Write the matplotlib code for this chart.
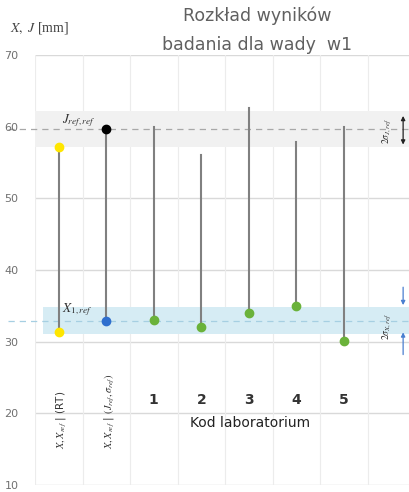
import matplotlib
matplotlib.use("Agg")
import matplotlib.pyplot as plt

# wyniki laboratoriow dla wady w1
labs = ['1', '2', '3', '4', '5']
lab_x = [33.0, 32.1, 34.0, 35.0, 30.1]
lab_j = [60.0, 56.0, 62.6, 57.8, 60.0]

# wartosci referencyjne
rt_low, rt_high = 31.3, 57.2
x_ref, j_ref = 32.9, 59.7
sigma_x, sigma_j = 1.9, 2.5

yticks = [10, 20, 30, 40, 50, 60, 70]

plt.rcParams['mathtext.fontset'] = 'stix'
fig = plt.figure(figsize=(4.09, 4.92), dpi=100)
ax = fig.add_axes([35/409, 7/492, 380/409, 430/492])
ax.set_xlim(-0.5, 7.5)
ax.set_ylim(10, 70)

for s in ax.spines.values():
    s.set_visible(False)
ax.set_xticks([])
ax.set_yticks(yticks)
ax.tick_params(axis='y', length=0, pad=12, labelsize=8, labelcolor='#707070')
for v in yticks:
    ax.axhline(v, color='#d9d9d9', lw=1, zorder=0)
for i in range(9):
    ax.axvline(i - 0.5, color='#ececec', lw=0.8, zorder=0)

# pasma niepewnosci
ax.fill_between([-0.5, 7.5], j_ref - sigma_j, j_ref + sigma_j, color='#f1f1f1', zorder=0.5, lw=0)
ax.fill_between([-0.33, 7.5], x_ref - sigma_x, x_ref + sigma_x, color='#d6ecf4', zorder=0.5, lw=0)
ax.plot([-1.07, 7.5], [j_ref, j_ref], ls=(0, (5, 4)), color='#a8a8a8', lw=0.9, clip_on=False, zorder=1)
ax.plot([-1.07, 7.5], [x_ref, x_ref], ls=(0, (5, 4)), color='#a6cfe2', lw=0.9, clip_on=False, zorder=1)

stem = dict(color='#808080', lw=1.5, zorder=2)
ms = 6
ax.plot([0, 0], [rt_low, rt_high], **stem)
ax.plot([1, 1], [x_ref, j_ref], **stem)
ax.plot([0], [rt_high], 'o', color='#ffe600', ms=ms, zorder=3)
ax.plot([0], [rt_low], 'o', color='#ffe600', ms=ms, zorder=3)
ax.plot([1], [j_ref], 'o', color='black', ms=ms, zorder=3)
ax.plot([1], [x_ref], 'o', color='#2f6fce', ms=ms, zorder=3)

for i, (lx, lj) in enumerate(zip(lab_x, lab_j)):
    ax.plot([i + 2, i + 2], [lx, lj], **stem)
    ax.plot([i + 2], [lx], 'o', color='#6ab23a', ms=ms, zorder=3)
    ax.text(i + 2, 21.9, labs[i], ha='center', va='center', fontsize=10,
            fontweight='bold', color='#333333')
ax.text(4.03, 18.7, 'Kod laboratorium', ha='center', va='center', fontsize=10, color='#222222')

ax.text(0.78, 60.9, r'$J_{ref,ref}$', ha='right', va='center', fontsize=9.5, color='#333333')
ax.text(0.70, 34.5, r'$X_{1,ref}$', ha='right', va='center', fontsize=9.5, color='#333333')

ax.text(0.05, 15, r'$X, X_{ref}$ | (RT)', rotation=90, ha='center', va='bottom',
        fontsize=7.5, color='#333333')
ax.text(1.05, 15, r'$X, X_{ref}$ | $(J_{ref}, \sigma_{ref})$', rotation=90, ha='center',
        va='bottom', fontsize=7.5, color='#333333')

# opisy pasm po prawej
ax.text(6.92, j_ref - 0.3, r'$2\sigma_{J,ref}$', rotation=90, ha='center', va='center',
        fontsize=7, color='#333333')
ax.annotate('', xy=(7.25, 57.5), xytext=(7.25, 61.5),
            arrowprops=dict(arrowstyle='<|-|>', color='#222222', lw=0.9,
                            mutation_scale=6, shrinkA=0, shrinkB=0))
ax.text(6.92, 32.1, r'$2\sigma_{X,ref}$', rotation=90, ha='center', va='center',
        fontsize=7, color='#333333')
ax.annotate('', xy=(7.25, 35.1), xytext=(7.25, 37.6),
            arrowprops=dict(arrowstyle='-|>', color='#4a7fd0', lw=0.9,
                            mutation_scale=6, shrinkA=0, shrinkB=0))
ax.annotate('', xy=(7.25, 31.3), xytext=(7.25, 28.2),
            arrowprops=dict(arrowstyle='-|>', color='#4a7fd0', lw=0.9,
                            mutation_scale=6, shrinkA=0, shrinkB=0))

fig.text(10/409, 1 - 28/492, r'$X,\ J$ [mm]', ha='left', va='center', fontsize=10,
         family='Liberation Serif', color='#444444')
fig.text(257/409, 1 - 30/492, 'Rozkład wyników\nbadania dla wady  w1', ha='center',
         va='center', fontsize=12.5, color='#606060', linespacing=1.75)

fig.savefig('out.png', dpi=100)
